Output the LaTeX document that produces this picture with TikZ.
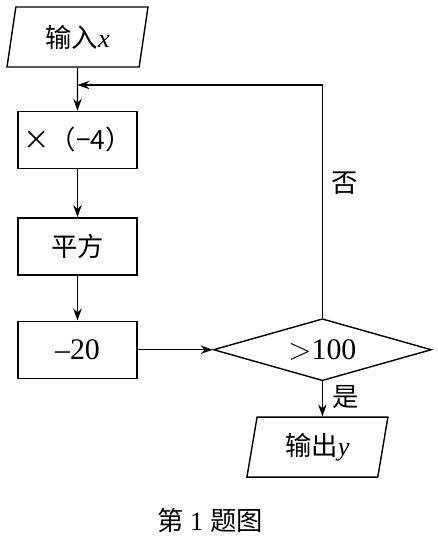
\documentclass[tikz,border=0pt]{standalone}
\usepackage{fontspec}
\setmainfont{Liberation Serif}
\newfontfamily\cjk{Noto Sans CJK SC}
\usetikzlibrary{positioning, shapes.geometric, arrows.meta}

\tikzset{
	blk/.style={draw, thick, minimum width=2.38cm, minimum height=1.14cm, inner sep=0pt},
	io/.style={draw, thick, trapezium, trapezium left angle=70, trapezium right angle=110,
		trapezium stretches body, minimum width=2.82cm, minimum height=1.2cm, inner sep=0pt},
	cond/.style={draw, thick, diamond, aspect=3.5, minimum width=4.36cm, minimum height=1.24cm, inner sep=0pt},
	flow/.style={thick, -{Stealth[length=2.4mm, width=1.7mm]}}
}

\begin{document}
\begin{tikzpicture}[font=\fontsize{15}{18}\selectfont]
	\useasboundingbox (0,0) rectangle (8.74,-10.78);
	\draw node (in)[io] at (1.55,-0.74) {{\cjk 输入}\textit{x}};
	\draw node (mul)[blk, below=0.86cm of in] {{\cjk ×（−4）}};
	\draw node (sq)[blk, below=0.96cm of mul] {{\cjk 平方}};
	\draw node (sub)[blk, below=0.9cm of sq] {\fontsize{17}{18}\selectfont –20};
	\draw node (dec)[cond, right=1.5cm of sub] {\fontsize{17}{18}\selectfont $>$100};
	\draw node (out)[io, below=0.7cm of dec, xshift=-0.1cm] {{\cjk 输出}\textit{y}};
	\coordinate (back) at (1.55,-1.7);
	\draw[flow] (in)--(mul);
	\draw[flow] (mul)--(sq);
	\draw[flow] (sq)--(sub);
	\draw[flow] (sub)--(dec);
	\draw[flow] (dec.north) |- (back);
	\draw[flow] (dec.south) -- (dec.south |- out.north);
	\draw node (no) at (6.9,-3.66) {{\cjk 否}};
	\draw node (yes) at (6.92,-7.95) {{\cjk 是}};
	\draw node (cap) at (4.2,-10.4) {{\cjk 第} 1 {\cjk 题图}};
\end{tikzpicture}
\end{document}
